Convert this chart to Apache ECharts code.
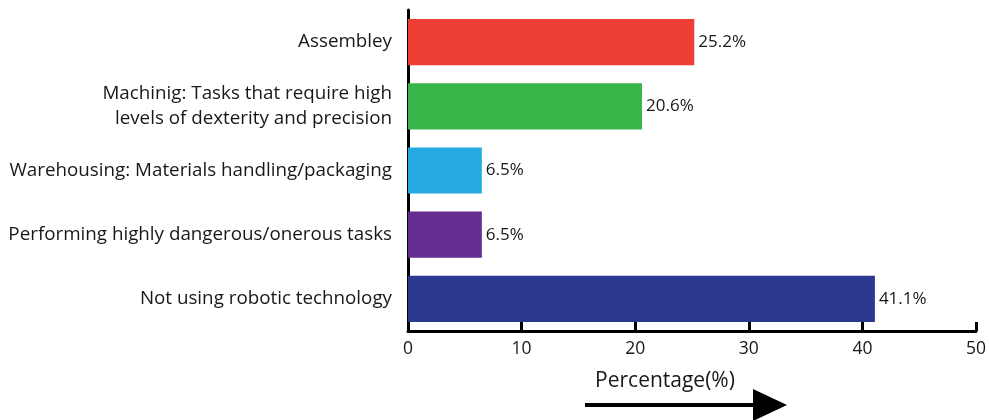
<!DOCTYPE html>
<html>
<head>
<meta charset="utf-8">
<script src="https://cdn.jsdelivr.net/npm/echarts@6/dist/echarts.min.js"></script>
<style>
  html, body { margin: 0; padding: 0; background: #ffffff; }
  #chart { width: 989px; height: 420px; }
</style>
</head>
<body>
<div id="chart"></div>
<script>
// Application areas of robotic technology (share of respondents, %)
const categories = [
  'Not using robotic technology',
  'Performing highly dangerous/onerous tasks',
  'Warehousing: Materials handling/packaging',
  'Machinig: Tasks that require high\nlevels of dexterity and precision',
  'Assembley'
];
const values = [41.1, 6.5, 6.5, 20.6, 25.2];
const barColors = ['#2B3990', '#662D91', '#27AAE1', '#3AB54A', '#EE3F37'];
const xTicks = [0, 10, 20, 30, 40, 50];

const FONT = '"Open Sans", "Noto Sans", sans-serif';
const TEXT = '#1A1718';

const chart = echarts.init(document.getElementById('chart'), null, { renderer: 'canvas' });

chart.setOption({
  animation: false,
  backgroundColor: '#ffffff',
  grid: { left: 408, right: 11, top: 10, bottom: 89, containLabel: false },
  xAxis: {
    type: 'value',
    min: xTicks[0],
    max: xTicks[xTicks.length - 1],
    interval: 10,
    name: 'Percentage(%)',
    nameLocation: 'middle',
    nameGap: 40,
    nameTextStyle: { fontFamily: FONT, fontSize: 21, color: TEXT, padding: [0, 54, 0, 0] },
    axisLine: { show: true, lineStyle: { color: '#000', width: 3 } },
    axisTick: { show: true, inside: true, length: 9, lineStyle: { color: '#000', width: 3 } },
    axisLabel: { fontFamily: FONT, fontSize: 17.5, color: TEXT, margin: 9 },
    splitLine: { show: false }
  },
  yAxis: {
    type: 'category',
    data: categories,
    axisLine: { show: true, lineStyle: { color: '#000', width: 3 } },
    axisTick: { show: false },
    axisLabel: {
      fontFamily: FONT, fontSize: 18.8, color: TEXT, margin: 16,
      align: 'right', lineHeight: 25
    }
  },
  series: [{
    type: 'bar',
    data: values.map((v, i) => ({ value: v, itemStyle: { color: barColors[i] } })),
    barCategoryGap: '28%',
    label: {
      show: true,
      position: 'right',
      distance: 4,
      fontFamily: FONT,
      fontSize: 17,
      color: TEXT,
      formatter: p => p.value.toFixed(1) + '%'
    }
  }],
  graphic: [
    {
      type: 'line',
      shape: { x1: 585, y1: 405, x2: 760, y2: 405 },
      style: { stroke: '#000', lineWidth: 4 }
    },
    {
      type: 'polygon',
      shape: { points: [[753, 389], [787, 405], [753, 421]] },
      style: { fill: '#000' }
    }
  ]
});
</script>
</body>
</html>
